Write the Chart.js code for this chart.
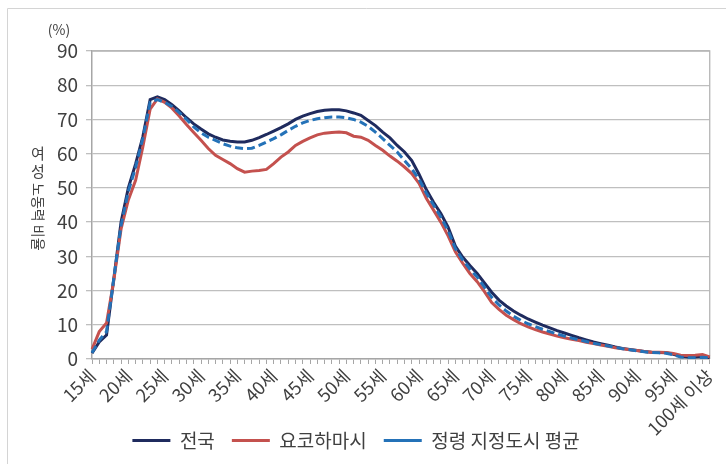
<!DOCTYPE html>
<html>
<head>
<meta charset="utf-8">
<script src="https://cdn.jsdelivr.net/npm/chart.js@4.4.0/dist/chart.umd.min.js"></script>
<style>
  body { margin: 0; background: #fff; }
  #wrap { width: 726px; height: 464px; position: relative; }
</style>
</head>
<body>
<div id="wrap"><canvas id="laborChart" width="726" height="464"></canvas></div>
<script>
var ages = [
  '15세','16세','17세','18세','19세','20세','21세','22세','23세','24세',
  '25세','26세','27세','28세','29세','30세','31세','32세','33세','34세',
  '35세','36세','37세','38세','39세','40세','41세','42세','43세','44세',
  '45세','46세','47세','48세','49세','50세','51세','52세','53세','54세',
  '55세','56세','57세','58세','59세','60세','61세','62세','63세','64세',
  '65세','66세','67세','68세','69세','70세','71세','72세','73세','74세',
  '75세','76세','77세','78세','79세','80세','81세','82세','83세','84세',
  '85세','86세','87세','88세','89세','90세','91세','92세','93세','94세',
  '95세','96세','97세','98세','99세','100세 이상'
];

var tickLabels = ['15세','20세','25세','30세','35세','40세','45세','50세','55세',
  '60세','65세','70세','75세','80세','85세','90세','95세','100세 이상'];

// 전국
var nationwide = [
  1.7, 5, 7, 23.5, 40, 50, 57, 65, 75.8, 76.6,
  75.8, 74.3, 72.5, 70.5, 68.7, 67.2, 65.8, 64.8, 64, 63.6,
  63.4, 63.4, 63.9, 64.7, 65.6, 66.6, 67.6, 68.7, 70, 71,
  71.7, 72.3, 72.7, 72.8, 72.8, 72.5, 71.9, 71.2, 69.7, 68.2,
  66.3, 64.6, 62.4, 60.5, 58, 54, 49.5, 45.8, 42.5, 38.5,
  33, 29.8, 27.3, 25, 22.2, 19.5, 17.2, 15.5, 14, 12.8,
  11.7, 10.8, 9.9, 9.1, 8.3, 7.6, 6.9, 6.2, 5.6, 5.0,
  4.5, 4.0, 3.5, 3.1, 2.8, 2.5, 2.2, 2.0, 1.9, 1.8,
  1.4, 0.8, 0.6, 0.6, 0.7, 0.4
];

// 요코하마시
var yokohama = [
  2.8, 8, 10.5, 23, 38, 46.5, 52.2, 62, 73, 76,
  75, 73.3, 71, 68.5, 66.2, 63.9, 61.5, 59.5, 58.3, 57.1,
  55.6, 54.6, 54.9, 55.1, 55.4, 57.1, 59, 60.5, 62.4, 63.6,
  64.6, 65.5, 66, 66.2, 66.3, 66.1, 65.1, 64.8, 63.9, 62.4,
  61, 59.3, 57.8, 56.1, 54.2, 51.3, 47, 43.5, 40, 36,
  31.3, 28, 25, 22.6, 19.7, 16.5, 14.5, 12.8, 11.5, 10.3,
  9.4, 8.6, 7.9, 7.3, 6.7, 6.2, 5.8, 5.4, 4.9, 4.5,
  4.1, 3.7, 3.3, 3.0, 2.7, 2.5, 2.2, 2.0, 2.0, 1.9,
  1.6, 1.1, 1.0, 1.1, 1.3, 0.6
];

// 정령 지정도시 평균
var designatedAvg = [
  1.8, 5.5, 8, 23.5, 39, 49, 56, 64.5, 75, 75.8,
  75, 73.8, 72, 70, 67.8, 66.1, 64.8, 63.9, 62.9, 62.2,
  61.7, 61.5, 61.6, 62.4, 63.4, 64.4, 65.5, 66.8, 68, 69,
  69.7, 70.2, 70.5, 70.7, 70.7, 70.5, 70, 69.2, 68, 66.3,
  64.4, 62.4, 60.5, 58, 55.6, 52.5, 48.5, 45, 41.5, 37.5,
  32.3, 29, 26.3, 24, 21, 18, 15.8, 14, 12.5, 11.3,
  10.3, 9.5, 8.7, 8.0, 7.3, 6.7, 6.1, 5.6, 5.1, 4.6,
  4.2, 3.8, 3.4, 3.0, 2.7, 2.4, 2.1, 1.9, 1.8, 1.7,
  1.2, 0.6, 0.4, 0.4, 0.5, 0.3
];

var fontFamily = '"Noto Sans CJK KR", "Noto Sans", sans-serif';
var textColor = '#404040';

var framePlugin = {
  id: 'frame',
  beforeDraw: function(chart) {
    var c = chart.ctx;
    c.save();
    c.strokeStyle = '#d4d4d4';
    c.lineWidth = 1;
    c.beginPath();
    c.moveTo(7.5, 464);
    c.lineTo(7.5, 8.5);
    c.lineTo(726, 8.5);
    c.stroke();
    c.restore();
  },
  beforeDatasetsDraw: function(chart) {
    var a = chart.chartArea;
    var c = chart.ctx;
    c.save();
    c.strokeStyle = '#b5b5b5';
    c.lineWidth = 1.3;
    c.beginPath();
    c.moveTo(a.left, a.top);
    c.lineTo(a.right, a.top);
    c.lineTo(a.right, a.bottom);
    c.stroke();
    c.restore();
  },
  afterDraw: function(chart) {
    var c = chart.ctx;
    c.save();
    c.fillStyle = textColor;
    c.font = '14px ' + fontFamily;
    c.textAlign = 'center';
    c.textBaseline = 'middle';
    c.fillText('(%)', 59, 30);

    // y축 제목: 앞 두 글자는 세워서, 나머지는 돌려서
    c.font = '15px ' + fontFamily;
    c.fillText('여', 38, 153);
    c.fillText('성', 38, 171);
    c.translate(38, 183);
    c.rotate(Math.PI / 2);
    c.textAlign = 'left';
    c.font = '14px ' + fontFamily;
    c.fillText('노동력 비율', 0, 0);
    c.restore();
  }
};

var ctx = document.getElementById('laborChart').getContext('2d');
var laborChart = new Chart(ctx, {
  type: 'line',
  data: {
    labels: ages,
    datasets: [
      {
        label: '전국',
        data: nationwide,
        borderColor: '#1f2b5e',
        borderWidth: 3,
        pointRadius: 0,
        tension: 0,
        order: 3
      },
      {
        label: '요코하마시',
        data: yokohama,
        borderColor: '#c4514e',
        borderWidth: 3,
        pointRadius: 0,
        tension: 0,
        order: 2
      },
      {
        label: '정령 지정도시 평균',
        data: designatedAvg,
        borderColor: '#2472b8',
        borderWidth: 3,
        borderDash: [8, 4],
        pointRadius: 0,
        tension: 0,
        order: 1
      }
    ]
  },
  options: {
    responsive: false,
    animation: false,
    layout: { padding: { left: 0, right: 14, top: 51, bottom: 4 } },
    plugins: {
      tooltip: { enabled: false },
      legend: {
        position: 'bottom',
        labels: {
          usePointStyle: true,
          pointStyle: 'line',
          pointStyleWidth: 38,
          padding: 17,
          color: textColor,
          font: { size: 19, family: fontFamily },
          sort: function(a, b) { return a.datasetIndex - b.datasetIndex; }
        }
      }
    },
    scales: {
      x: {
        offset: false,
        grid: { drawOnChartArea: false, drawTicks: true, tickLength: 5, color: '#a6a6a6', lineWidth: 1 },
        border: { color: '#a6a6a6', width: 1.5 },
        ticks: {
          autoSkip: false,
          minRotation: 45,
          maxRotation: 45,
          padding: 1,
          color: textColor,
          font: { size: 18, family: fontFamily },
          callback: function(value, index) {
            return index % 5 === 0 ? tickLabels[index / 5] : '';
          }
        },
        afterFit: function(scale) {
          scale.height = 55;
          // 긴 '100세 이상' 라벨이 범례 높이까지 내려가므로 잘리지 않게 함
          scale._computeLabelArea = function() { return undefined; };
        }
      },
      y: {
        min: 0,
        max: 90,
        ticks: {
          stepSize: 10,
          padding: 8,
          color: textColor,
          font: { size: 19, family: fontFamily }
        },
        grid: { color: '#bfbfbf', lineWidth: 1.3, tickLength: 6 },
        border: { color: '#a6a6a6', width: 1.5 },
        afterFit: function(scale) { scale.width = 92; }
      }
    }
  },
  plugins: [framePlugin]
});
</script>
</body>
</html>
